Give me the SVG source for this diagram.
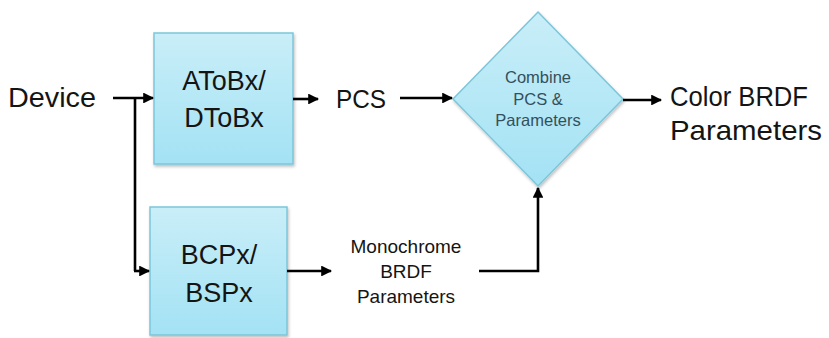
<svg xmlns="http://www.w3.org/2000/svg" width="829" height="338" viewBox="0 0 829 338">
<style>
.t{font-family:"Liberation Sans",Arial,sans-serif;fill:#141414;text-anchor:middle}
.lbl{font-family:"Liberation Sans",Arial,sans-serif;fill:#141414}
.box{fill:url(#g);stroke:#7cc6da;stroke-width:1.5}
.dt{font-family:"Liberation Sans",Arial,sans-serif;fill:#34505c;text-anchor:middle;font-size:16.5px}
.c{fill:none;stroke:#000;stroke-width:2.6;marker-end:url(#ah)}
.cn{fill:none;stroke:#000;stroke-width:2.6}
</style>
<defs>
<linearGradient id="g" x1="0" y1="0" x2="0" y2="1">
<stop offset="0" stop-color="#c9eef8"/>
<stop offset="1" stop-color="#a3e2f4"/>
</linearGradient>
<filter id="sh" x="-10%" y="-10%" width="130%" height="130%">
<feDropShadow dx="1" dy="2" stdDeviation="1.5" flood-color="#000" flood-opacity="0.25"/>
</filter>
<marker id="ah" viewBox="0 0 10 10" refX="9" refY="5" markerWidth="4.2" markerHeight="4.2" orient="auto" markerUnits="strokeWidth">
<path d="M0,0 L10,5 L0,10 Z" fill="#000"/>
</marker>
</defs>
<rect width="829" height="338" fill="#fff"/>

<g id="device">
<text class="lbl" x="8" y="107" font-size="27" textLength="88" lengthAdjust="spacingAndGlyphs">Device</text>
</g>

<g id="atobx">
<rect class="box" x="154" y="33" width="139" height="131" filter="url(#sh)"/>
<text class="t" x="224" y="90" font-size="27">AToBx/</text>
<text class="t" x="224" y="127" font-size="27">DToBx</text>
</g>

<g id="bcpx">
<rect class="box" x="150" y="207" width="137" height="128" filter="url(#sh)"/>
<text class="t" x="219" y="264" font-size="27">BCPx/</text>
<text class="t" x="219" y="302" font-size="27">BSPx</text>
</g>

<g id="pcs">
<text class="lbl" x="336" y="108" font-size="26" textLength="50" lengthAdjust="spacingAndGlyphs">PCS</text>
</g>

<g id="combine">
<polygon class="box" points="538,12 623,99 538,186 453,99" filter="url(#sh)"/>
<text class="dt" x="538" y="83">Combine</text>
<text class="dt" x="538" y="105">PCS &amp;</text>
<text class="dt" x="538" y="126">Parameters</text>
</g>

<g id="mono">
<text class="t" x="406" y="253" font-size="19">Monochrome</text>
<text class="t" x="406" y="278" font-size="19">BRDF</text>
<text class="t" x="406" y="303" font-size="19">Parameters</text>
</g>

<g id="color">
<text class="lbl" x="670" y="106" font-size="28.5" textLength="138" lengthAdjust="spacingAndGlyphs">Color BRDF</text>
<text class="lbl" x="670" y="140" font-size="28.5" textLength="152" lengthAdjust="spacingAndGlyphs">Parameters</text>
</g>

<g id="connectors">
<path class="c" d="M113,98 L153,98"/>
<path class="cn" d="M135,98 L135,271"/>
<path class="c" d="M134,271 L149,271"/>
<path class="c" d="M293,99 L318,99"/>
<path class="c" d="M400,98 L452,98"/>
<path class="c" d="M623,100 L661,100"/>
<path class="c" d="M287,271 L331,271"/>
<path class="c" d="M479,271 L538,271 L538,188"/>
</g>
</svg>
